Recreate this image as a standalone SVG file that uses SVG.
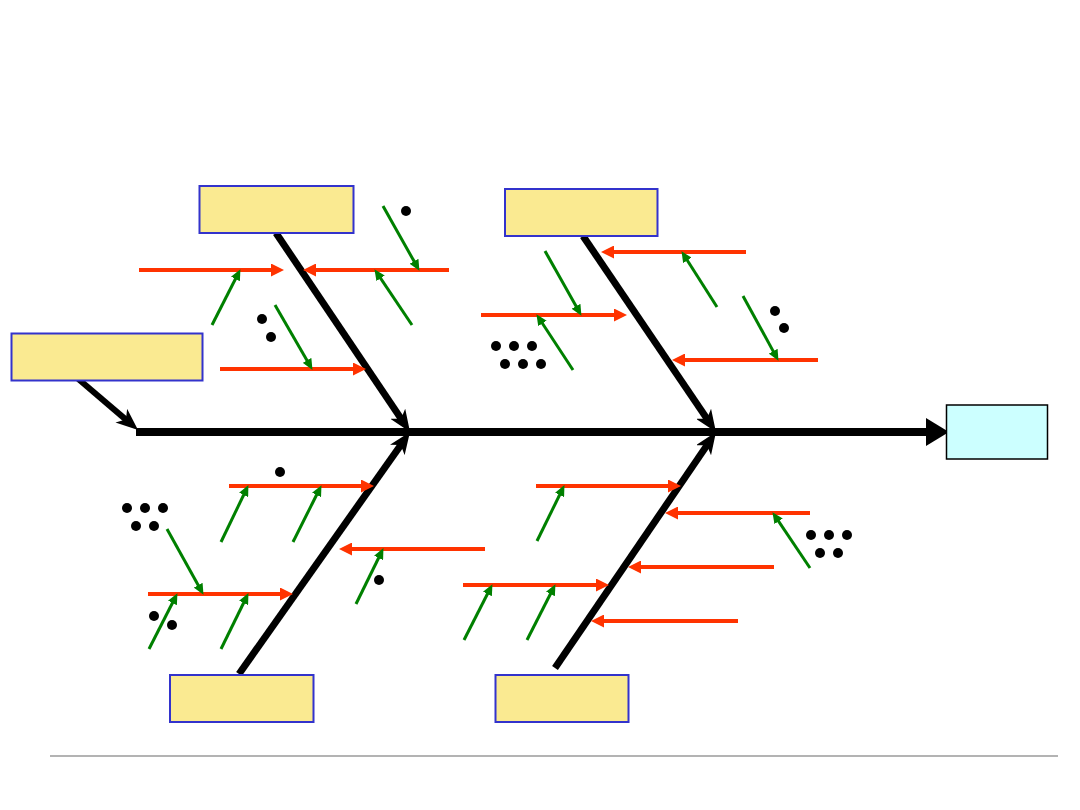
<svg xmlns="http://www.w3.org/2000/svg" width="1080" height="810" viewBox="0 0 1080 810">
<style>
.cat{fill:#FAEA91;stroke:#3333CC;stroke-width:2}
.eff{fill:#CCFFFF;stroke:#000;stroke-width:1.5}
.bone{stroke:#000;stroke-width:7;fill:none;marker-end:url(#mb)}
.red{stroke:#FF3300;stroke-width:4;fill:none;marker-end:url(#mr)}
.grn{stroke:#008000;stroke-width:3;fill:none;marker-end:url(#mg)}
.dot{fill:#000}
</style>
<defs>
<marker id="mb" markerUnits="userSpaceOnUse" markerWidth="22" markerHeight="18" viewBox="0 0 22 18" refX="8" refY="9" orient="auto"><path d="M0,0 L22,9 L0,18 L6,9 z" fill="#000"/></marker>
<marker id="mr" markerUnits="userSpaceOnUse" markerWidth="13" markerHeight="13" viewBox="0 0 13 13" refX="5" refY="6.5" orient="auto"><path d="M0,0 L13,6.5 L0,13 z" fill="#FF3300"/></marker>
<marker id="mg" markerUnits="userSpaceOnUse" markerWidth="11" markerHeight="10" viewBox="0 0 11 10" refX="5" refY="5" orient="auto"><path d="M0,0 L11,5 L0,10 z" fill="#008000"/></marker>
</defs>
<rect width="1080" height="810" fill="#fff"/>
<g id="connectors">
<line x1="136" y1="432" x2="930" y2="432" stroke="#000" stroke-width="8"/>
<polygon points="926,418 949,432 926,446" fill="#000"/>
<line class="bone" x1="76" y1="377" x2="127.4" y2="420.9" style="stroke-width:6"/>
<line class="bone" x1="276" y1="233" x2="402.2" y2="420.4"/>
<line class="bone" x1="239" y1="674" x2="401.9" y2="443.4"/>
<line class="bone" x1="583" y1="236" x2="708.1" y2="420.4"/>
<line class="bone" x1="555" y1="668" x2="708.1" y2="443.6"/>
<line class="red" x1="139" y1="270" x2="276" y2="270"/>
<line class="red" x1="449" y1="270" x2="311" y2="270"/>
<line class="red" x1="220" y1="369" x2="358" y2="369"/>
<line class="red" x1="746" y1="252" x2="609" y2="252"/>
<line class="red" x1="481" y1="315" x2="619" y2="315"/>
<line class="red" x1="818" y1="360" x2="680" y2="360"/>
<line class="red" x1="229" y1="486" x2="366" y2="486"/>
<line class="red" x1="485" y1="549" x2="347" y2="549"/>
<line class="red" x1="148" y1="594" x2="285" y2="594"/>
<line class="red" x1="536" y1="486" x2="673" y2="486"/>
<line class="red" x1="810" y1="513" x2="673" y2="513"/>
<line class="red" x1="774" y1="567" x2="636" y2="567"/>
<line class="red" x1="463" y1="585" x2="601" y2="585"/>
<line class="red" x1="738" y1="621" x2="599" y2="621"/>
<line class="grn" x1="212" y1="325" x2="237.7" y2="274.5"/>
<line class="grn" x1="383" y1="206" x2="416.5" y2="265.6"/>
<line class="grn" x1="412" y1="325" x2="377.8" y2="274.2"/>
<line class="grn" x1="275" y1="305" x2="309.5" y2="364.7"/>
<line class="grn" x1="545" y1="251" x2="578.5" y2="310.6"/>
<line class="grn" x1="573" y1="370" x2="539.7" y2="319.2"/>
<line class="grn" x1="717" y1="307" x2="684.7" y2="256.2"/>
<line class="grn" x1="743" y1="296" x2="775.6" y2="355.6"/>
<line class="grn" x1="221" y1="542" x2="245.8" y2="490.5"/>
<line class="grn" x1="293" y1="542" x2="318.8" y2="490.5"/>
<line class="grn" x1="167" y1="529" x2="200.6" y2="589.6"/>
<line class="grn" x1="149" y1="649" x2="174.7" y2="598.5"/>
<line class="grn" x1="221" y1="649" x2="245.8" y2="598.5"/>
<line class="grn" x1="356" y1="604" x2="380.8" y2="553.5"/>
<line class="grn" x1="464" y1="640" x2="489.7" y2="589.5"/>
<line class="grn" x1="537" y1="541" x2="561.8" y2="490.5"/>
<line class="grn" x1="527" y1="640" x2="552.7" y2="589.5"/>
<line class="grn" x1="810" y1="568" x2="775.8" y2="517.2"/>
</g>
<g id="dots">
<circle class="dot" cx="406" cy="211" r="5"/>
<circle class="dot" cx="262" cy="319" r="5"/>
<circle class="dot" cx="271" cy="337" r="5"/>
<circle class="dot" cx="775" cy="311" r="5"/>
<circle class="dot" cx="784" cy="328" r="5"/>
<circle class="dot" cx="496" cy="346" r="5"/>
<circle class="dot" cx="514" cy="346" r="5"/>
<circle class="dot" cx="532" cy="346" r="5"/>
<circle class="dot" cx="505" cy="364" r="5"/>
<circle class="dot" cx="523" cy="364" r="5"/>
<circle class="dot" cx="541" cy="364" r="5"/>
<circle class="dot" cx="280" cy="472" r="5"/>
<circle class="dot" cx="379" cy="580" r="5"/>
<circle class="dot" cx="127" cy="508" r="5"/>
<circle class="dot" cx="145" cy="508" r="5"/>
<circle class="dot" cx="163" cy="508" r="5"/>
<circle class="dot" cx="136" cy="526" r="5"/>
<circle class="dot" cx="154" cy="526" r="5"/>
<circle class="dot" cx="154" cy="616" r="5"/>
<circle class="dot" cx="172" cy="625" r="5"/>
<circle class="dot" cx="811" cy="535" r="5"/>
<circle class="dot" cx="829" cy="535" r="5"/>
<circle class="dot" cx="847" cy="535" r="5"/>
<circle class="dot" cx="820" cy="553" r="5"/>
<circle class="dot" cx="838" cy="553" r="5"/>
</g>
<g id="box-top-left"><rect class="cat" x="199.5" y="186" width="154" height="47"/></g>
<g id="box-left"><rect class="cat" x="11.5" y="333.5" width="191" height="47"/></g>
<g id="box-top-right"><rect class="cat" x="505" y="189" width="152.5" height="47"/></g>
<g id="box-bottom-left"><rect class="cat" x="170" y="675" width="143.5" height="47"/></g>
<g id="box-bottom-right"><rect class="cat" x="495.5" y="675" width="133" height="47"/></g>
<g id="box-effect"><rect class="eff" x="946.5" y="405" width="101" height="54"/></g>
<line x1="50" y1="756" x2="1058" y2="756" stroke="#B3B3B3" stroke-width="2"/>
</svg>
